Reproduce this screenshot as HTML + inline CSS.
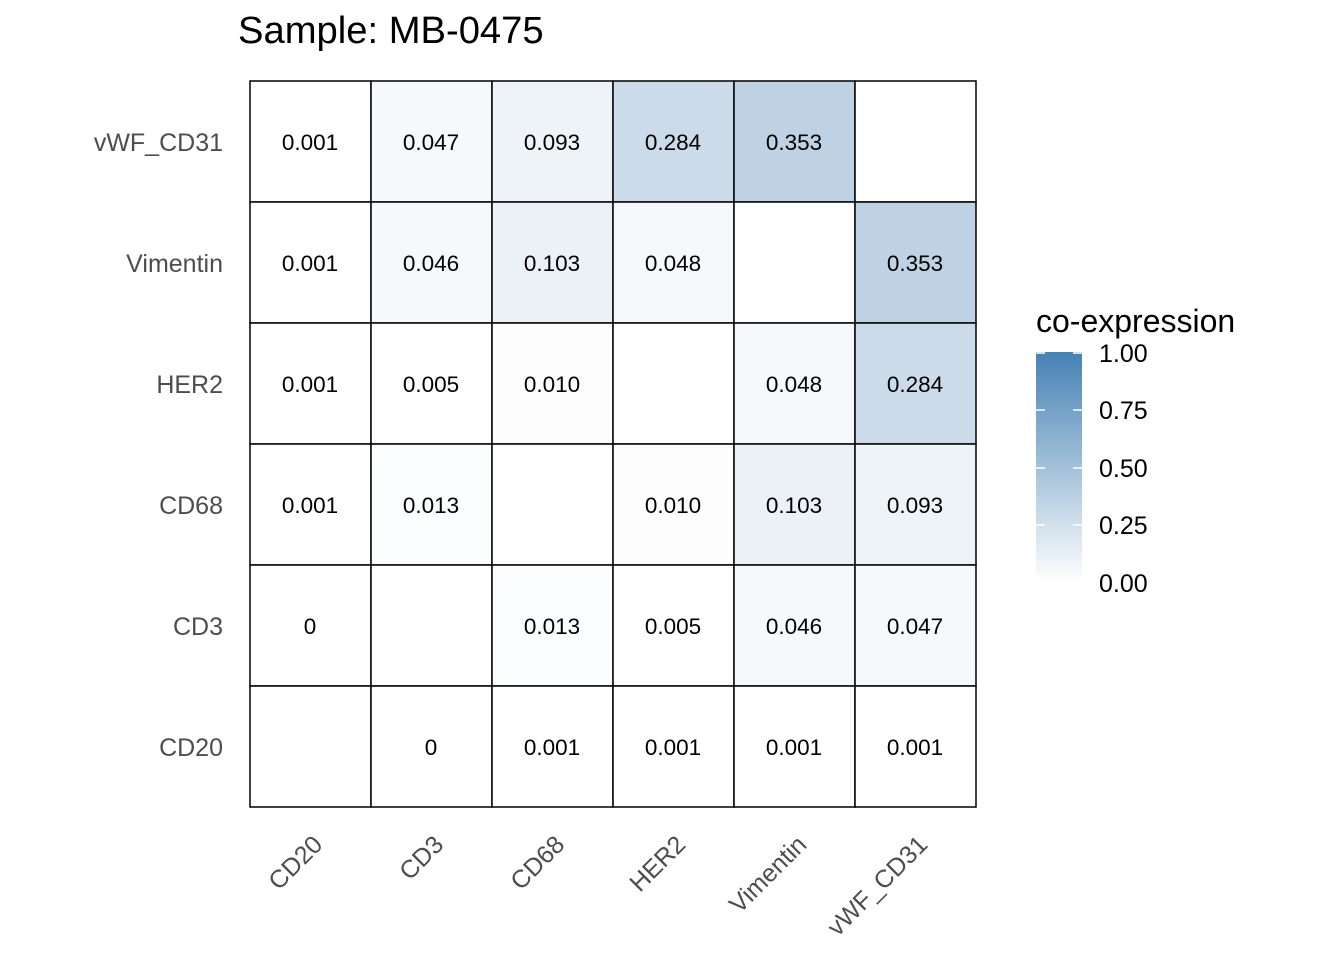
<html><body style="margin:0;background:#fff">
<svg width="1344" height="960" xmlns="http://www.w3.org/2000/svg" font-family="Liberation Sans, sans-serif">
<defs><linearGradient id="g" x1="0" y1="1" x2="0" y2="0"><stop offset="0" stop-color="#fff"/><stop offset="1" stop-color="#4682b4"/></linearGradient></defs>
<text x="238" y="43" font-size="38.2" fill="#000">Sample: MB-0475</text>
<g stroke="#000" stroke-width="1.5">
<rect x="250" y="81" width="121" height="121" fill="#fff"/>
<rect x="371" y="81" width="121" height="121" fill="#f6f8fb"/>
<rect x="492" y="81" width="121" height="121" fill="#eef3f8"/>
<rect x="613" y="81" width="121" height="121" fill="#cbdbea"/>
<rect x="734" y="81" width="121" height="121" fill="#bed2e3"/>
<rect x="855" y="81" width="121" height="121" fill="#fff"/>
<rect x="250" y="202" width="121" height="121" fill="#fff"/>
<rect x="371" y="202" width="121" height="121" fill="#f6f8fb"/>
<rect x="492" y="202" width="121" height="121" fill="#ecf1f7"/>
<rect x="613" y="202" width="121" height="121" fill="#f6f8fb"/>
<rect x="734" y="202" width="121" height="121" fill="#fff"/>
<rect x="855" y="202" width="121" height="121" fill="#bed2e3"/>
<rect x="250" y="323" width="121" height="121" fill="#fff"/>
<rect x="371" y="323" width="121" height="121" fill="#fefefe"/>
<rect x="492" y="323" width="121" height="121" fill="#fdfdfe"/>
<rect x="613" y="323" width="121" height="121" fill="#fff"/>
<rect x="734" y="323" width="121" height="121" fill="#f6f8fb"/>
<rect x="855" y="323" width="121" height="121" fill="#cbdbea"/>
<rect x="250" y="444" width="121" height="121" fill="#fff"/>
<rect x="371" y="444" width="121" height="121" fill="#fcfdfe"/>
<rect x="492" y="444" width="121" height="121" fill="#fff"/>
<rect x="613" y="444" width="121" height="121" fill="#fdfdfe"/>
<rect x="734" y="444" width="121" height="121" fill="#ecf1f7"/>
<rect x="855" y="444" width="121" height="121" fill="#eef3f8"/>
<rect x="250" y="565" width="121" height="121" fill="#fff"/>
<rect x="371" y="565" width="121" height="121" fill="#fff"/>
<rect x="492" y="565" width="121" height="121" fill="#fcfdfe"/>
<rect x="613" y="565" width="121" height="121" fill="#fefefe"/>
<rect x="734" y="565" width="121" height="121" fill="#f6f8fb"/>
<rect x="855" y="565" width="121" height="121" fill="#f6f8fb"/>
<rect x="250" y="686" width="121" height="121" fill="#fff"/>
<rect x="371" y="686" width="121" height="121" fill="#fff"/>
<rect x="492" y="686" width="121" height="121" fill="#fff"/>
<rect x="613" y="686" width="121" height="121" fill="#fff"/>
<rect x="734" y="686" width="121" height="121" fill="#fff"/>
<rect x="855" y="686" width="121" height="121" fill="#fff"/>
</g>
<g font-size="22.5" fill="#000" text-anchor="middle">
<text x="310" y="150">0.001</text><text x="431" y="150">0.047</text><text x="552" y="150">0.093</text><text x="673" y="150">0.284</text><text x="794" y="150">0.353</text>
<text x="310" y="271">0.001</text><text x="431" y="271">0.046</text><text x="552" y="271">0.103</text><text x="673" y="271">0.048</text><text x="915" y="271">0.353</text>
<text x="310" y="392">0.001</text><text x="431" y="392">0.005</text><text x="552" y="392">0.010</text><text x="794" y="392">0.048</text><text x="915" y="392">0.284</text>
<text x="310" y="513">0.001</text><text x="431" y="513">0.013</text><text x="673" y="513">0.010</text><text x="794" y="513">0.103</text><text x="915" y="513">0.093</text>
<text x="310" y="634">0</text><text x="552" y="634">0.013</text><text x="673" y="634">0.005</text><text x="794" y="634">0.046</text><text x="915" y="634">0.047</text>
<text x="431" y="755">0</text><text x="552" y="755">0.001</text><text x="673" y="755">0.001</text><text x="794" y="755">0.001</text><text x="915" y="755">0.001</text>
</g>
<g font-size="25" fill="#4d4d4d" text-anchor="end">
<text x="223" y="151">vWF_CD31</text><text x="223" y="272">Vimentin</text><text x="223" y="393">HER2</text><text x="223" y="514">CD68</text><text x="223" y="635">CD3</text><text x="223" y="756">CD20</text>
</g>
<g font-size="25" fill="#4d4d4d" text-anchor="end">
<text transform="translate(324,846) rotate(-45)">CD20</text>
<text transform="translate(445,846) rotate(-45)">CD3</text>
<text transform="translate(566,846) rotate(-45)">CD68</text>
<text transform="translate(687,846) rotate(-45)">HER2</text>
<text transform="translate(808,846) rotate(-45)">Vimentin</text>
<text transform="translate(929,846) rotate(-45)">vWF_CD31</text>
</g>
<text x="1036" y="332" font-size="32" fill="#000">co-expression</text>
<rect x="1036" y="352" width="46" height="231" fill="url(#g)"/>
<g stroke="#fff" stroke-width="1.5">
<line x1="1036" y1="353" x2="1045" y2="353"/><line x1="1073" y1="353" x2="1082" y2="353"/>
<line x1="1036" y1="410" x2="1045" y2="410"/><line x1="1073" y1="410" x2="1082" y2="410"/>
<line x1="1036" y1="468" x2="1045" y2="468"/><line x1="1073" y1="468" x2="1082" y2="468"/>
<line x1="1036" y1="525" x2="1045" y2="525"/><line x1="1073" y1="525" x2="1082" y2="525"/>
</g>
<g font-size="25" fill="#000">
<text x="1099" y="362">1.00</text><text x="1099" y="419">0.75</text><text x="1099" y="477">0.50</text><text x="1099" y="534">0.25</text><text x="1099" y="592">0.00</text>
</g>
</svg>
</body></html>
